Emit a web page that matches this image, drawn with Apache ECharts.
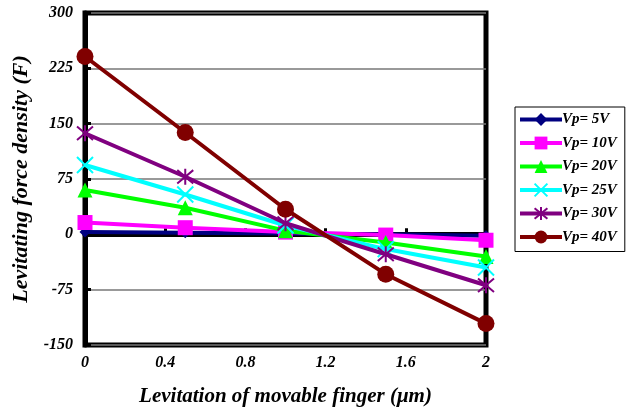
<!DOCTYPE html>
<html><head><meta charset="utf-8">
<script src="https://cdn.jsdelivr.net/npm/echarts@6/dist/echarts.min.js"></script>
<style>html,body{margin:0;padding:0;background:#fff}#c{width:636px;height:412px}</style>
</head><body><div id="c"></div>
<script>
const xValues = [0, 0.5, 1, 1.5, 2];
const seriesNames = ['Vp= 5V', 'Vp= 10V', 'Vp= 20V', 'Vp= 25V', 'Vp= 30V', 'Vp= 40V'];
const vp5 = [3, 2, 1, 0, -2];
const vp10 = [16, 9, 3, -1, -8];
const vp20 = [60, 36, 5, -11, -30];
const vp25 = [94, 54, 12, -20, -45];
const vp30 = [137, 78, 15, -27, -69];
const vp40 = [241, 138, 34, -54, -121];
const xTicks = [0, 0.4, 0.8, 1.2, 1.6, 2];
const yTicks = [-150, -75, 0, 75, 150, 225, 300];

const colors = ['#000080', '#ff00ff', '#00ff00', '#00ffff', '#800080', '#800000'];
const symbols = ['diamond', 'rect', 'triangle', 'path://M0,0L10,10M10,0L0,10', 'path://M0,0L10,10M10,0L0,10M5,-1L5,11', 'circle'];
const sizes = [11, 15, 15, 16, 16, 17];
const allData = [vp5, vp10, vp20, vp25, vp30, vp40];
const font = "'Liberation Serif', 'Times New Roman', serif";

const series = allData.map((vals, i) => ({
  name: seriesNames[i],
  type: 'line',
  data: vals.map((v, j) => [xValues[j], v]),
  symbol: symbols[i],
  symbolSize: sizes[i],
  showAllSymbol: true,
  clip: false,
  lineStyle: { color: colors[i], width: 4 },
  itemStyle: { color: colors[i], borderColor: colors[i], borderWidth: (i === 3 || i === 4) ? 2 : 0 },
  emphasis: { disabled: true },
  animation: false,
  z: 3 + i
}));

const chart = echarts.init(document.getElementById('c'), null, { renderer: 'canvas' });
chart.setOption({
  animation: false,
  grid: { left: 85, right: 150, top: 13, bottom: 67, outerBoundsMode: 'none', containLabel: false,
    show: true, borderColor: '#000', borderWidth: 5, backgroundColor: 'transparent' },
  xAxis: {
    type: 'value', min: xTicks[0], max: xTicks[xTicks.length - 1], interval: 0.4,
    name: 'Levitation of movable finger (μm)', nameLocation: 'middle', nameGap: 41,
    nameTextStyle: { fontFamily: font, fontWeight: 'bold', fontStyle: 'italic', fontSize: 21, color: '#000' },
    axisLine: { lineStyle: { color: '#000', width: 5 } },
    axisTick: { inside: true, length: 6, lineStyle: { color: '#000', width: 3 } },
    axisLabel: { fontFamily: font, fontWeight: 'bold', fontStyle: 'italic', fontSize: 16, color: '#000', margin: 10,
      formatter: v => String(Math.round(v * 10) / 10) },
    splitLine: { show: false }
  },
  yAxis: {
    type: 'value', min: yTicks[0], max: yTicks[yTicks.length - 1], interval: 75,
    name: 'Levitating force density (F)', nameLocation: 'middle', nameGap: 52,
    nameTextStyle: { fontFamily: font, fontWeight: 'bold', fontStyle: 'italic', fontSize: 22, color: '#000' },
    axisLine: { lineStyle: { color: '#000', width: 5 } },
    axisTick: { inside: true, length: 6, lineStyle: { color: '#000', width: 3 } },
    axisLabel: { fontFamily: font, fontWeight: 'bold', fontStyle: 'italic', fontSize: 16, color: '#000', margin: 12 },
    splitLine: { show: true, lineStyle: { color: '#777', width: 1.5 } }
  },
  legend: {
    orient: 'vertical', left: 515, top: 107,
    backgroundColor: '#fff', borderColor: '#000', borderWidth: 1, borderRadius: 0,
    padding: [5, 8, 7, 3], itemGap: 8.5, itemWidth: 42, itemHeight: 16,
    lineStyle: { width: 4 },
    textStyle: { fontFamily: font, fontWeight: 'bold', fontStyle: 'italic', fontSize: 15, color: '#000', padding: [0, 0, 0, -5] },
    data: seriesNames
  },
  series: series
});
</script></body></html>
